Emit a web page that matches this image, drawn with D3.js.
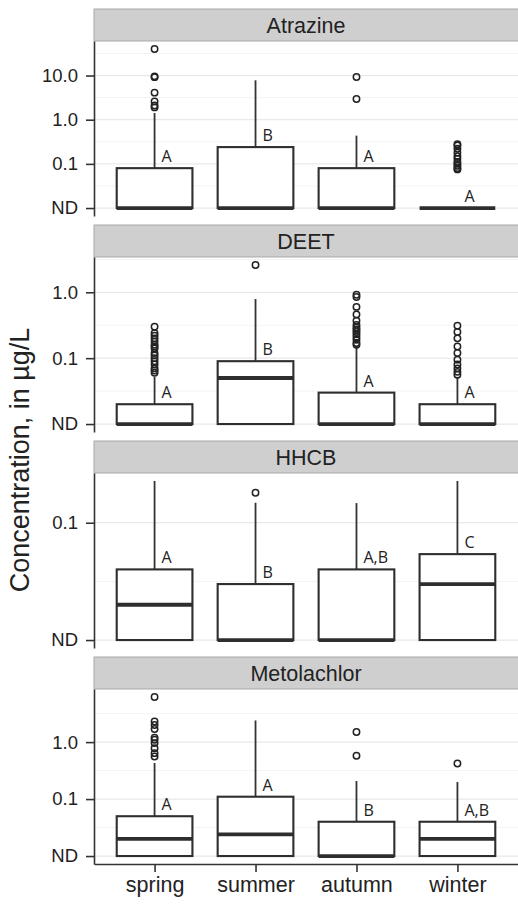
<!DOCTYPE html>
<html>
<head>
<meta charset="utf-8">
<script src="https://cdn.jsdelivr.net/npm/d3@7"></script>
<style>
  body { margin: 0; background: #fff; }
  text { font-family: "Liberation Sans", Arial, sans-serif; fill: #222; }
  .letter { font-family: "Open Sans", sans-serif; }
</style>
</head>
<body>
<div class="container"></div>
<script>
const width = 518
const height = 904
const margin = { top: 9, left: 94, right: 0 }
const panelHeight = 207
const stripHeight = 32
const panelGap = 9
const ND = 0.01   // non-detects are plotted at 0.01

const seasons = ["spring", "summer", "autumn", "winter"]
const compounds = ["Atrazine", "DEET", "HHCB", "Metolachlor"]

// box stats per compound, one value per season (lower hinge + lower whisker are ND everywhere)
const upperHinge = [
    [0.08, 0.24, 0.08, ND],
    [0.02, 0.09, 0.03, 0.02],
    [0.04, 0.03, 0.04, 0.054],
    [0.05, 0.11, 0.04, 0.04]
]
const medians = [
    [ND, ND, ND, ND],
    [ND, 0.05, ND, ND],
    [0.02, ND, ND, 0.03],
    [0.02, 0.024, ND, 0.02]
]
const upperWhisker = [
    [1.42, 7.8, 0.436, ND],
    [0.052, 0.79, 0.147, 0.052],
    [0.227, 0.148, 0.147, 0.227],
    [0.43, 2.4, 0.207, 0.2]
]
const outliers = [
    [[40, 9.6, 9.2, 4.1, 2.6, 2.1, 1.9], [], [9.3, 2.95], [0.28, 0.26, 0.22, 0.18, 0.15, 0.13, 0.11, 0.1, 0.09, 0.08, 0.075]],
    [[0.3, 0.24, 0.22, 0.2, 0.18, 0.16, 0.15, 0.14, 0.12, 0.11, 0.1, 0.09, 0.08, 0.07, 0.065, 0.06], [2.6],
     [0.92, 0.85, 0.6, 0.46, 0.37, 0.32, 0.29, 0.27, 0.25, 0.23, 0.21, 0.19, 0.17, 0.16],
     [0.31, 0.25, 0.2, 0.15, 0.12, 0.095, 0.08, 0.07, 0.062, 0.056]],
    [[], [0.18], [], []],
    [[6.2, 2.3, 2.0, 1.7, 1.2, 1.1, 0.96, 0.78, 0.64, 0.56], [], [1.5, 0.575], [0.42]]
]
const letters = [
    ["A", "B", "A", "A"],
    ["A", "B", "A", "A"],
    ["A", "B", "A,B", "C"],
    ["A", "A", "B", "A,B"]
]
const yTicks = [
    [ND, 0.1, 1, 10],
    [ND, 0.1, 1],
    [ND, 0.1],
    [ND, 0.1, 1]
]

const svg = d3.select(".container")
    .append("svg")
    .attr("width", width)
    .attr("height", height)

const xScale = d3.scalePoint()
    .domain(seasons)
    .range([margin.left, width - margin.right])
    .padding(0.6)
const boxWidth = xScale.step() * 0.75

const tickFormat = (d) => d === ND ? "ND" : d3.format(".1f")(d)

compounds.forEach((name, i) => {
    const top = margin.top + i * (panelHeight + panelGap)
    const plotTop = top + stripHeight
    const plotBottom = top + panelHeight

    // log scale with ggplot-like 5% expansion
    const maxVal = d3.max([...upperWhisker[i], ...outliers[i].flat()])
    const lo = Math.log10(ND), hi = Math.log10(maxVal)
    const pad = (hi - lo) * 0.05
    const yScale = d3.scaleLog()
        .domain([10 ** (lo - pad), 10 ** (hi + pad)])
        .range([plotBottom, plotTop])

    const panel = svg.append("g")

    // grid
    const minor = d3.range(Math.floor(lo - pad), Math.ceil(hi + pad))
        .map(k => 10 ** (k + 0.5))
        .filter(v => v > yScale.domain()[0] && v < yScale.domain()[1])
    panel.append("g").selectAll("line")
        .data(minor)
        .join("line")
        .attr("x1", margin.left).attr("x2", width)
        .attr("y1", d => yScale(d)).attr("y2", d => yScale(d))
        .attr("stroke", "#f3f3f3")
        .attr("stroke-width", 1)
    panel.append("g").selectAll("line")
        .data(yTicks[i])
        .join("line")
        .attr("x1", margin.left).attr("x2", width)
        .attr("y1", d => yScale(d)).attr("y2", d => yScale(d))
        .attr("stroke", "#e9e9e9")
        .attr("stroke-width", 1.2)

    // strip
    panel.append("rect")
        .attr("x", margin.left)
        .attr("y", top)
        .attr("width", width - margin.left + 2)
        .attr("height", stripHeight)
        .attr("fill", "#cfcfcf")
        .attr("stroke", "#a9a9a9")
        .attr("stroke-width", 1)
    panel.append("text")
        .attr("x", (margin.left + width) / 2)
        .attr("y", top + stripHeight / 2)
        .attr("dy", "0.36em")
        .attr("text-anchor", "middle")
        .attr("font-size", 21.5)
        .text(name)

    // whiskers
    panel.append("g").selectAll("line")
        .data(seasons)
        .join("line")
        .attr("x1", d => xScale(d)).attr("x2", d => xScale(d))
        .attr("y1", (d, j) => yScale(upperHinge[i][j]))
        .attr("y2", (d, j) => yScale(upperWhisker[i][j]))
        .attr("stroke", "#333")
        .attr("stroke-width", 1.8)

    // boxes
    panel.append("g").selectAll("rect")
        .data(seasons)
        .join("rect")
        .attr("x", d => xScale(d) - boxWidth / 2)
        .attr("y", (d, j) => yScale(upperHinge[i][j]))
        .attr("width", boxWidth)
        .attr("height", (d, j) => yScale(ND) - yScale(upperHinge[i][j]))
        .attr("fill", "#fff")
        .attr("stroke", "#2e2e2e")
        .attr("stroke-width", 2.1)

    // medians
    panel.append("g").selectAll("line")
        .data(seasons)
        .join("line")
        .attr("x1", d => xScale(d) - boxWidth / 2)
        .attr("x2", d => xScale(d) + boxWidth / 2)
        .attr("y1", (d, j) => yScale(medians[i][j]))
        .attr("y2", (d, j) => yScale(medians[i][j]))
        .attr("stroke", "#2e2e2e")
        .attr("stroke-width", 3.8)

    // outliers
    const pts = seasons.flatMap((s, j) => outliers[i][j].map(v => ({ s, v })))
    panel.append("g").selectAll("circle")
        .data(pts)
        .join("circle")
        .attr("cx", d => xScale(d.s))
        .attr("cy", d => yScale(d.v))
        .attr("r", 3.2)
        .attr("fill", "none")
        .attr("stroke", "#222")
        .attr("stroke-width", 1.5)

    // significance letters
    panel.append("g").selectAll("text")
        .data(seasons)
        .join("text")
        .attr("class", "letter")
        .attr("x", d => xScale(d) + 7)
        .attr("y", (d, j) => yScale(upperHinge[i][j]) - 6)
        .attr("font-size", 16)
        .text((d, j) => letters[i][j])

    // y axis
    const yAxis = panel.append("g")
        .attr("transform", `translate(${margin.left},0)`)
        .call(d3.axisLeft(yScale).tickValues(yTicks[i]).tickFormat(tickFormat).tickSize(8).tickSizeOuter(0).tickPadding(8))
    yAxis.selectAll("line, path").attr("stroke", "#333").attr("stroke-width", 1.6)
    yAxis.selectAll("text").attr("font-size", 18.5).attr("fill", "#222")
        .style("font-family", '"Liberation Sans", Arial, sans-serif')

    if (i === compounds.length - 1) {
        const xAxis = panel.append("g")
            .attr("transform", `translate(0,${plotBottom})`)
            .call(d3.axisBottom(xScale).tickSize(8).tickSizeOuter(0).tickPadding(5))
        xAxis.selectAll("line, path").attr("stroke", "#333").attr("stroke-width", 1.6)
        xAxis.selectAll("text").attr("font-size", 21.5).attr("fill", "#222")
            .style("font-family", '"Liberation Sans", Arial, sans-serif')
    }
})

svg.append("text")
    .attr("transform", "translate(29,460) rotate(-90)")
    .attr("text-anchor", "middle")
    .attr("font-size", 27)
    .text("Concentration, in µg/L")
</script>
</body>
</html>
